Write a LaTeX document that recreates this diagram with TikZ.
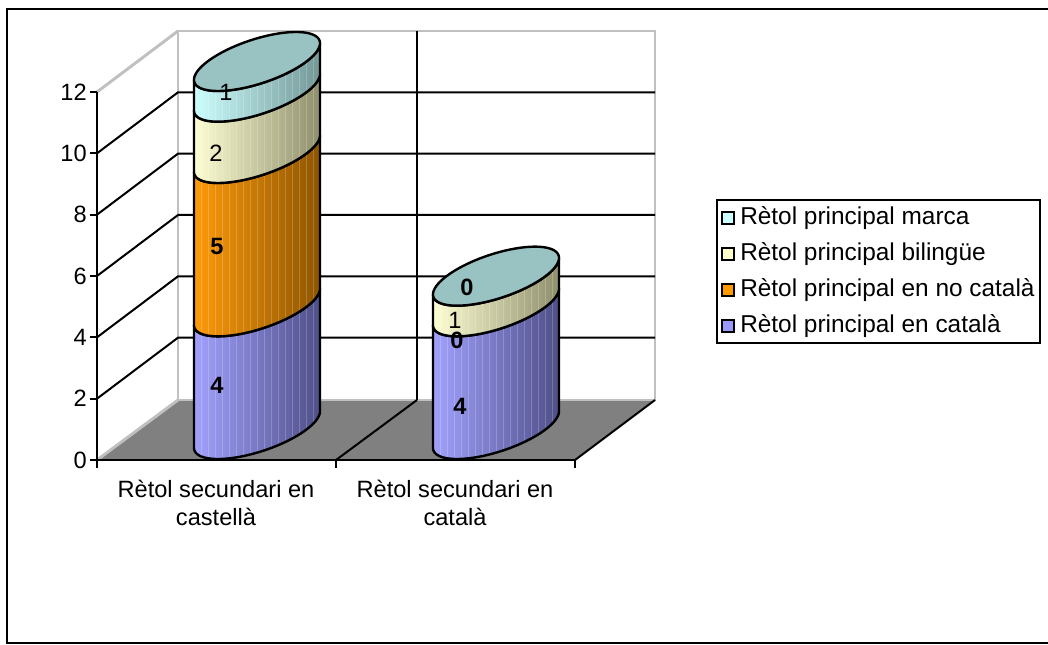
\documentclass[tikz,border=0pt]{standalone}
\usepackage{fontspec}
\setmainfont{Liberation Sans}
\definecolor{blueL}{RGB}{162,162,255}
\definecolor{blueR}{RGB}{78,78,135}
\definecolor{oraL}{RGB}{255,155,10}
\definecolor{oraR}{RGB}{140,84,0}
\definecolor{bilL}{RGB}{255,255,212}
\definecolor{bilR}{RGB}{142,142,108}
\definecolor{marL}{RGB}{205,255,255}
\definecolor{marR}{RGB}{115,150,150}
\definecolor{capC}{RGB}{153,194,194}
\definecolor{wallG}{RGB}{192,192,192}
\definecolor{floorG}{RGB}{128,128,128}
\definecolor{legBlue}{RGB}{153,153,255}
\definecolor{legOra}{RGB}{255,153,0}
\definecolor{legBil}{RGB}{255,255,204}
\definecolor{legMar}{RGB}{204,255,255}
\newcommand\cylseg[5]{%
 \pgfmathsetmacro\cya{429.5-30.667*#2}%
 \pgfmathsetmacro\cyb{429.5-30.667*#3}%
 \begin{scope}
 \clip plot[domain=218.23:398.23,samples=61,variable=\t] ({#1+49.5*cos(\t)+39*sin(\t)},{\cya-29.5*sin(\t)}) -- plot[domain=398.23:218.23,samples=61,variable=\t] ({#1+49.5*cos(\t)+39*sin(\t)},{\cyb-29.5*sin(\t)}) -- cycle;
 \shade[left color=#4,right color=#5] ({#1-64},{\cyb-35}) rectangle ({#1+64},{\cya+35});
 \foreach \s in {-56,-49,...,63} \draw[white,opacity=0.2,line width=0.4pt] ({#1+\s},{\cyb-35}) -- ({#1+\s},{\cya+35});
 \end{scope}
 \draw[cyl] plot[domain=218.23:398.23,samples=61,variable=\t] ({#1+49.5*cos(\t)+39*sin(\t)},{\cya-29.5*sin(\t)}) -- plot[domain=398.23:218.23,samples=61,variable=\t] ({#1+49.5*cos(\t)+39*sin(\t)},{\cyb-29.5*sin(\t)}) -- cycle;
}
\newcommand\cylcap[3]{%
 \pgfmathsetmacro\cyc{429.5-30.667*#2}%
 \filldraw[cyl,fill=#3] plot[domain=0:360,samples=91,variable=\t] ({#1+49.5*cos(\t)+39*sin(\t)},{\cyc-29.5*sin(\t)}) -- cycle;
}
\tikzset{
 cyl/.style={draw=black,line width=1.8pt,line join=round},
 grid/.style={black,line width=1.5pt},
 wall/.style={wallG,line width=2.2pt},
 txt/.style={font=\fontsize{17.7}{21.5}\selectfont,inner sep=0pt},
 legtxt/.style={font=\fontsize{18.3}{21}\selectfont,inner sep=0pt},
 num/.style={txt},
 bnum/.style={txt,font=\fontsize{17.7}{21}\selectfont\bfseries},
 legsq/.style={draw=black,line width=1.3pt,minimum size=9.5pt,inner sep=0pt},
}
\begin{document}
\begin{tikzpicture}[x=0.75pt,y=-0.75pt]
\useasboundingbox (0,0) rectangle (1048,645);
\fill[white] (0,0) rectangle (1048,645);
% outer frame
\draw[black,line width=1.7pt] (1060,9) -- (7,9) -- (7,643) -- (1060,643);
% floor
\fill[floorG] (97,460) -- (575,460) -- (655,400) -- (178,400) -- cycle;
% side wall and back wall
\fill[white] (97,460) -- (97,92) -- (178,31) -- (178,400) -- cycle;
\draw[wall] (97,460) -- (178,400);
\draw[wall] (97,92) -- (178,31);
\draw[wall] (178,400) rectangle (655,31);
% grid lines
\foreach \v in {2,4,6,8,10} {
 \draw[grid] (97,{460-30.667*\v}) -- (178,{399-30.667*\v}) -- (655,{399-30.667*\v});
}
\draw[grid] (417,31) -- (417,400);
\draw[grid] (336,460) -- (417,400);
\draw[grid] (575,460) -- (655,400);
% axes
\draw[grid] (97,92) -- (97,468);
\draw[grid] (97,460) -- (575,460);
\foreach \v in {0,2,...,12} {
 \draw[grid] (90,{460-30.667*\v}) -- (97,{460-30.667*\v});
 \node[txt,anchor=east] (y\v) at (87,{460-30.667*\v}) {\v};
}
\foreach \x in {97,336,575} \draw[grid] (\x,460) -- (\x,468);
\node[txt,align=center] (cat1) at (216,503) {Rètol secundari en\\castellà};
\node[txt,align=center] (cat2) at (455,503) {Rètol secundari en\\català};
% cylinder 1
\cylseg{257}{0}{4}{blueL}{blueR}
\cylseg{257}{4}{9}{oraL}{oraR}
\cylseg{257}{9}{11}{bilL}{bilR}
\cylseg{257}{11}{12}{marL}{marR}
\cylcap{257}{12}{capC}
% cylinder 2
\cylseg{496}{0}{4}{blueL}{blueR}
\cylseg{496}{4}{5}{bilL}{bilR}
\cylcap{496}{5}{capC}
% data labels
\node[bnum] (a1) at (217,385) {4};
\node[bnum] (a2) at (217,246) {5};
\node[num] (a3) at (216,153) {2};
\node[num] (a4) at (226,92) {1};
\node[bnum] (b1) at (460,406) {4};
\node[bnum] (b2) at (457,340) {0};
\node[num] (b3) at (455,320) {1};
\node[bnum] (b4) at (467,287) {0};
% legend
\draw[black,line width=1.5pt] (717,200) rectangle (1040,343);
\node[legsq,fill=legMar] (l1) at (728,218) {};
\node[legsq,fill=legBil] (l2) at (728,254) {};
\node[legsq,fill=legOra] (l3) at (728,290) {};
\node[legsq,fill=legBlue] (l4) at (728,326) {};
\node[legtxt,anchor=west] (t1) at (740,218) {Rètol principal marca};
\node[legtxt,anchor=west] (t2) at (740,254) {Rètol principal bilingüe};
\node[legtxt,anchor=west] (t3) at (740,290) {Rètol principal en no català};
\node[legtxt,anchor=west] (t4) at (740,326) {Rètol principal en català};
\end{tikzpicture}
\end{document}
